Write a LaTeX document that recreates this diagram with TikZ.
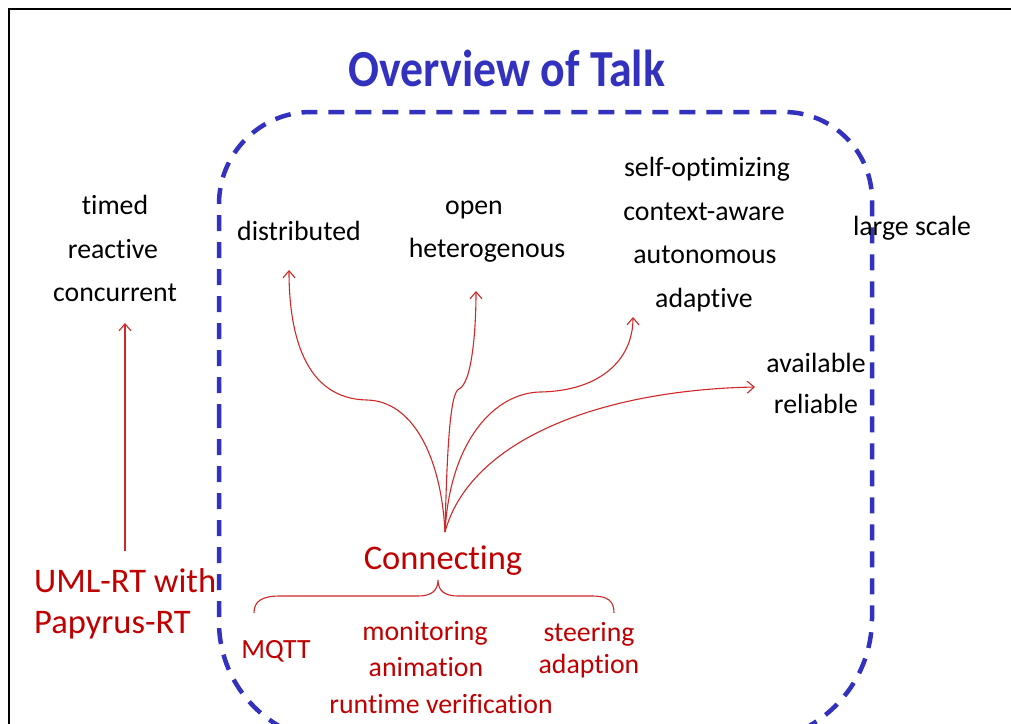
\documentclass[tikz,border=0pt]{standalone}
\usepackage{fontspec}
\setmainfont[Ligatures=NoCommon]{Carlito}
\usetikzlibrary{arrows.meta}
\definecolor{talkblue}{RGB}{50,50,190}
\definecolor{talkred}{RGB}{192,0,0}
\definecolor{arrowred}{RGB}{208,40,40}
\tikzset{
  lbl/.style={anchor=base, inner sep=0pt, font=\fontsize{27.8}{32}\selectfont},
  redlbl/.style={lbl, text=talkred},
  biglbl/.style={anchor=base west, inner sep=0pt, text=talkred, font=\fontsize{34.5}{40}\selectfont},
  link/.style={draw=arrowred, line width=1.1pt,
    -{Straight Barb[length=7pt,width=12pt,line width=1.1pt]}},
  bracepath/.style={draw=arrowred, line width=1.1pt},
  scopebox/.style={draw=talkblue, line width=4.5pt, dash pattern=on 16pt off 11pt},
}
\begin{document}
\begin{tikzpicture}[x=1pt,y=-1pt]
\clip (0,0) rectangle (1011,723);
\fill[white] (0,0) rectangle (1011,723);

% outer slide frame
\draw[line width=2.6pt] (9,9) rectangle (1040,760);

% title
\node[anchor=base, inner sep=0pt, text=talkblue, xscale=0.88,
      font=\fontsize{52}{60}\selectfont\bfseries] (title) at (507,86) {Overview of Talk};

% dashed scope around the connecting part
\draw[scopebox]
  (219,420) -- (219,204)
  .. controls (219,153.2) and (260.2,112) .. (311,112)
  -- (784,112)
  .. controls (832.6,112) and (872,151.4) .. (872,200)
  -- (872,618)
  .. controls (872,686.5) and (816.5,742) .. (748,742)
  -- (339,742)
  .. controls (272.7,742) and (219,688.3) .. (219,622)
  -- cycle;

% left column
\node[lbl] (timed) at (115,214) {timed};
\node[lbl] (reactive) at (113,258) {reactive};
\node[lbl] (concurrent) at (115,301) {concurrent};
\node[biglbl] (uml) at (34,592) {UML-RT with};
\node[biglbl] (papyrus) at (34,633) {Papyrus-RT};

% properties
\node[lbl] (distributed) at (299,240) {distributed};
\node[lbl] (open) at (474,214) {open};
\node[lbl] (hetero) at (487,257) {heterogenous};
\node[lbl] (selfopt) at (707,176) {self-optimizing};
\node[lbl] (context) at (704,220) {context-aware};
\node[lbl] (autonomous) at (705,263) {autonomous};
\node[lbl] (adaptive) at (704,307) {adaptive};
\node[lbl] (largescale) at (912,235) {large scale};
\node[lbl] (available) at (816,372) {available};
\node[lbl] (reliable) at (816,413) {reliable};

% connecting technologies
\node[anchor=base, inner sep=0pt, text=talkred, font=\fontsize{34.5}{40}\selectfont]
  (connecting) at (443,569) {Connecting};
\node[redlbl] (mqtt) at (276,658) {MQTT};
\node[redlbl] (monitoring) at (425,640) {monitoring};
\node[redlbl] (animation) at (426,676) {animation};
\node[redlbl] (runtime) at (441,713) {runtime verification};
\node[redlbl] (steering) at (589,641) {steering};
\node[redlbl] (adaption) at (589,673) {adaption};

% arrow end points
\coordinate (hub) at (445,532);
\coordinate (umlTop) at (125,551);
\coordinate (concTip) at (125,323);
\coordinate (distTip) at (289,270);
\coordinate (openTip) at (476,291);
\coordinate (adaptTip) at (633,317);
\coordinate (availTip) at (755,387);

\draw[link] (umlTop) -- (concTip);
\draw[link] (hub) .. controls (441,455) and (412,401) .. (367,400)
                  .. controls (305,399) and (289,335) .. (distTip);
\draw[link] (hub) .. controls (447,450) and (450,392) .. (459,389)
                  .. controls (472,383) and (476,330) .. (openTip);
\draw[link] (hub) .. controls (450,440) and (495,393) .. (540,392)
                  .. controls (600,391) and (633,360) .. (adaptTip);
\draw[link] (hub) .. controls (470,440) and (600,390) .. (availTip);

% brace under "Connecting"
\coordinate (braceL) at (254,613);
\coordinate (braceM) at (438,580);
\coordinate (braceR) at (614,613);
\draw[bracepath] (braceL) .. controls (254,601) and (262,596) .. (280,596)
  -- (418,596) .. controls (431,596) and (438,591) .. (braceM)
  .. controls (438,591) and (445,596) .. (458,596)
  -- (592,596) .. controls (608,596) and (614,601) .. (braceR);
\end{tikzpicture}
\end{document}
